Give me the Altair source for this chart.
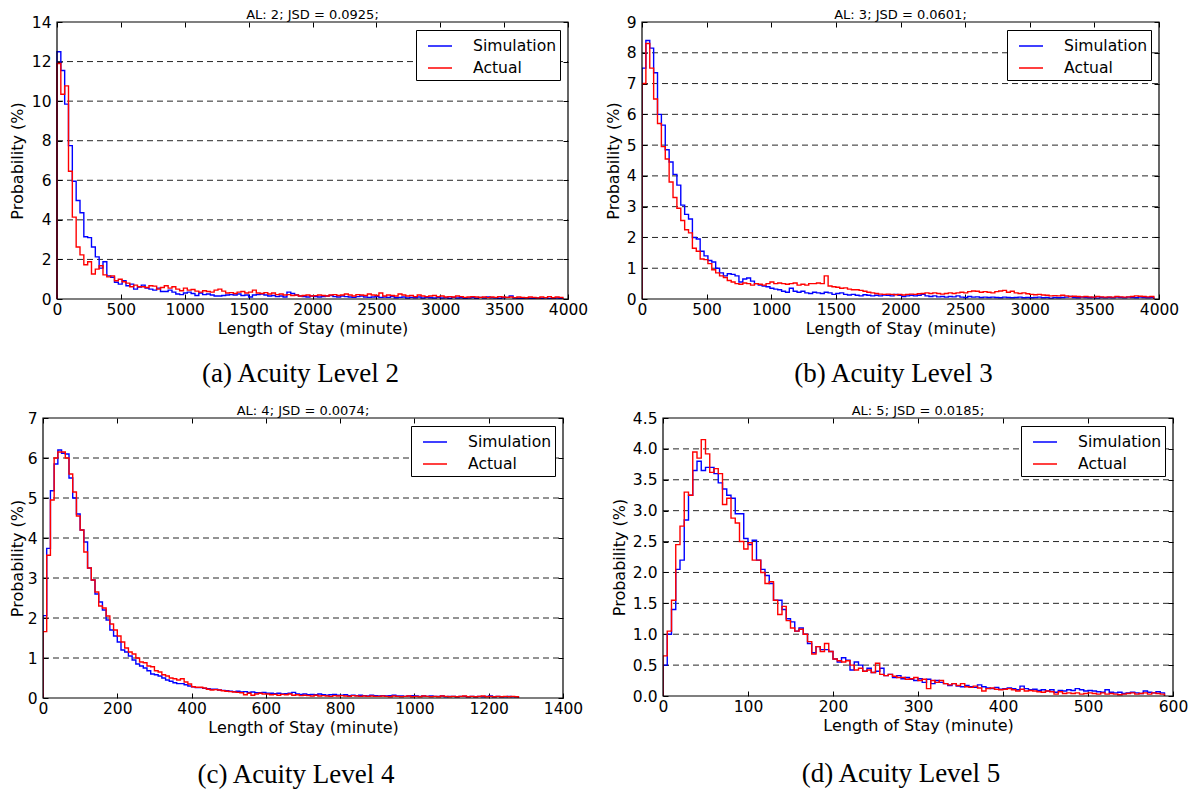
import altair as alt
import pandas as pd

SERIES = ["Simulation", "Actual"]
COLORS = ["#0000ff", "#ff0000"]
X_TITLE = "Length of Stay (minute)"
Y_TITLE = "Probability (%)"

# ---------------- Panel (a) ----------------
A_TITLE = "AL: 2; JSD = 0.0925;"
A_CAPTION = "(a) Acuity Level 2"
A_BIN = 30
A_XTICKS = [0, 500, 1000, 1500, 2000, 2500, 3000, 3500, 4000]
A_YTICKS = [0, 2, 4, 6, 8, 10, 12, 14]
A_SIM = [12.5, 11.55, 9.85, 7.75, 5.95, 4.98, 4.36, 3.15, 3.1, 2.63,
         2.13, 1.56, 1.88, 1.17, 1.1, 0.85, 0.75, 0.92, 0.67, 0.75,
         0.5, 0.6, 0.7, 0.55, 0.5, 0.45, 0.55, 0.38, 0.38, 0.45,
         0.35, 0.25, 0.22, 0.3, 0.35, 0.28, 0.18, 0.3, 0.22, 0.25,
         0.2, 0.15, 0.15, 0.18, 0.2, 0.22, 0.2, 0.25, 0.18, 0.2,
         0.1, 0.2, 0.22, 0.25, 0.2, 0.15, 0.18, 0.12, 0.15, 0.1,
         0.35, 0.28, 0.2, 0.15, 0.12, 0.1, 0.15, 0.12, 0.1, 0.12,
         0.15, 0.18, 0.12, 0.1, 0.15, 0.12, 0.1, 0.08, 0.12, 0.15,
         0.1, 0.08, 0.1, 0.12, 0.08, 0.1, 0.08, 0.12, 0.06, 0.08,
         0.1, 0.05, 0.08, 0.06, 0.1, 0.05, 0.08, 0.06, 0.05, 0.08,
         0.05, 0.06, 0.04, 0.08, 0.05, 0.06, 0.04, 0.05, 0.07, 0.04,
         0.08, 0.05, 0.1, 0.06, 0.05, 0.04, 0.06, 0.08, 0.15, 0.05,
         0.04, 0.03, 0.05, 0.04, 0.03, 0.05, 0.04, 0.06, 0.03, 0.04, 0.05, 0.03]
A_ACT = [11.9, 10.35, 10.77, 6.46, 4.14, 2.63, 2.23, 1.73, 1.88, 1.26,
         1.51, 1.68, 1.22, 1.12, 1.17, 0.92, 1.0, 0.87, 0.8, 0.62,
         0.7, 0.62, 0.62, 0.58, 0.67, 0.65, 0.5, 0.58, 0.67, 0.55,
         0.62, 0.5, 0.42, 0.55, 0.45, 0.48, 0.4, 0.35, 0.42, 0.38,
         0.35, 0.45, 0.5, 0.4, 0.3, 0.32, 0.28, 0.35, 0.38, 0.3,
         0.35, 0.45, 0.3, 0.28, 0.32, 0.25, 0.3, 0.22, 0.25, 0.2,
         0.22, 0.18, 0.2, 0.15, 0.18, 0.2, 0.15, 0.17, 0.2, 0.18,
         0.15, 0.2, 0.22, 0.18, 0.2, 0.25, 0.2, 0.15, 0.22, 0.2,
         0.18, 0.25, 0.2, 0.18, 0.3, 0.15, 0.2, 0.18, 0.15, 0.25,
         0.2, 0.15, 0.18, 0.12, 0.2, 0.15, 0.12, 0.15, 0.18, 0.12,
         0.15, 0.1, 0.12, 0.1, 0.15, 0.12, 0.08, 0.1, 0.12, 0.1,
         0.08, 0.1, 0.07, 0.1, 0.08, 0.12, 0.1, 0.08, 0.1, 0.07,
         0.1, 0.08, 0.06, 0.1, 0.08, 0.05, 0.1, 0.07, 0.12, 0.06, 0.1, 0.08]

# ---------------- Panel (b) ----------------
B_TITLE = "AL: 3; JSD = 0.0601;"
B_CAPTION = "(b) Acuity Level 3"
B_BIN = 30
B_XTICKS = [0, 500, 1000, 1500, 2000, 2500, 3000, 3500, 4000]
B_YTICKS = [0, 1, 2, 3, 4, 5, 6, 7, 8, 9]
B_SIM = [7.5, 8.4, 8.15, 7.35, 6.0, 5.65, 4.85, 4.45, 4.05, 3.7,
         3.05, 2.75, 2.6, 2.0, 1.95, 1.55, 1.4, 1.25, 1.2, 1.0,
         0.85, 0.75, 0.82, 0.8, 0.75, 0.55, 0.65, 0.68, 0.58, 0.5,
         0.45, 0.42, 0.4, 0.35, 0.32, 0.3, 0.25, 0.22, 0.35, 0.25,
         0.22, 0.25, 0.2, 0.18, 0.22, 0.2, 0.18, 0.22, 0.2, 0.15,
         0.18, 0.2, 0.15, 0.13, 0.15, 0.12, 0.1, 0.14, 0.12, 0.1,
         0.12, 0.1, 0.13, 0.12, 0.1, 0.15, 0.12, 0.08, 0.1, 0.12,
         0.1, 0.12, 0.15, 0.1, 0.08, 0.1, 0.07, 0.08, 0.06, 0.08,
         0.07, 0.1, 0.06, 0.05, 0.08, 0.06, 0.07, 0.05, 0.06, 0.05,
         0.06, 0.05, 0.04, 0.06, 0.05, 0.04, 0.05, 0.06, 0.04, 0.05,
         0.04, 0.05, 0.06, 0.04, 0.05, 0.03, 0.05, 0.04, 0.05, 0.06,
         0.08, 0.05, 0.04, 0.06, 0.05, 0.04, 0.05, 0.03, 0.05, 0.04,
         0.05, 0.04, 0.06, 0.05, 0.04, 0.06, 0.05, 0.04, 0.06, 0.05, 0.04, 0.05]
B_ACT = [7.0, 8.3, 7.5, 6.5, 5.7, 4.95, 4.55, 3.8, 3.3, 2.95,
         2.55, 2.25, 2.15, 1.65, 1.55, 1.3, 1.28, 1.15, 0.95, 0.85,
         0.75, 0.7, 0.6, 0.55, 0.5, 0.48, 0.52, 0.5, 0.45, 0.5,
         0.48, 0.45, 0.5, 0.55, 0.5, 0.52, 0.5, 0.48, 0.5, 0.52,
         0.45, 0.48, 0.45, 0.5, 0.5, 0.52, 0.5, 0.75, 0.42, 0.4,
         0.38, 0.35, 0.36, 0.32, 0.3, 0.3, 0.28, 0.25, 0.22, 0.2,
         0.18, 0.16, 0.15, 0.16, 0.15, 0.14, 0.15, 0.13, 0.15, 0.16,
         0.15, 0.17, 0.18, 0.2, 0.18, 0.2, 0.18, 0.16, 0.18, 0.2,
         0.18, 0.2, 0.22, 0.2, 0.24, 0.26, 0.25, 0.22, 0.24, 0.22,
         0.2, 0.24, 0.26, 0.28, 0.22, 0.25, 0.2, 0.18, 0.2, 0.17,
         0.15, 0.14, 0.15, 0.13, 0.12, 0.1, 0.11, 0.1, 0.12, 0.1,
         0.08, 0.09, 0.08, 0.07, 0.08, 0.07, 0.06, 0.08, 0.07, 0.06,
         0.07, 0.06, 0.08, 0.07, 0.06, 0.07, 0.08, 0.1, 0.09, 0.08, 0.07, 0.08]

# ---------------- Panel (c) ----------------
C_TITLE = "AL: 4; JSD = 0.0074;"
C_CAPTION = "(c) Acuity Level 4"
C_BIN = 10
C_XTICKS = [0, 200, 400, 600, 800, 1000, 1200, 1400]
C_YTICKS = [0, 1, 2, 3, 4, 5, 6, 7]
C_SIM = [2.06, 3.74, 5.18, 5.85, 6.2, 6.12, 6.1, 5.5, 5.0, 4.6,
         4.2, 3.9, 3.25, 2.95, 2.6, 2.4, 2.2, 1.95, 1.7, 1.55,
         1.4, 1.2, 1.15, 1.05, 0.95, 0.85, 0.8, 0.75, 0.68, 0.6,
         0.58, 0.55, 0.5, 0.45, 0.42, 0.38, 0.36, 0.36, 0.33, 0.3,
         0.28, 0.26, 0.26, 0.24, 0.23, 0.22, 0.22, 0.2, 0.19, 0.18,
         0.17, 0.16, 0.17, 0.15, 0.16, 0.14, 0.15, 0.13, 0.13, 0.14,
         0.12, 0.12, 0.11, 0.12, 0.1, 0.11, 0.12, 0.14, 0.1, 0.09,
         0.1, 0.08, 0.09, 0.08, 0.1, 0.08, 0.07, 0.08, 0.09, 0.07,
         0.07, 0.08, 0.06, 0.07, 0.06, 0.07, 0.06, 0.05, 0.07, 0.06,
         0.05, 0.06, 0.05, 0.06, 0.07, 0.05, 0.05, 0.04, 0.05, 0.06,
         0.05, 0.04, 0.05, 0.04, 0.05, 0.04, 0.04, 0.05, 0.03, 0.04,
         0.04, 0.03, 0.04, 0.04, 0.03, 0.04, 0.03, 0.04, 0.03, 0.04,
         0.05, 0.03, 0.04, 0.03, 0.03, 0.04, 0.03, 0.03]
C_ACT = [1.66, 3.57, 4.95, 6.0, 6.15, 6.15, 6.0, 5.6, 5.15, 4.55,
         4.2, 3.65, 3.25, 2.95, 2.65, 2.3, 2.25, 2.05, 1.85, 1.7,
         1.55, 1.4, 1.25, 1.15, 1.1, 1.0, 0.9, 0.88, 0.8, 0.78,
         0.68, 0.65, 0.58, 0.55, 0.5, 0.48, 0.45, 0.48, 0.4, 0.35,
         0.28, 0.27, 0.27, 0.25, 0.22, 0.2, 0.21, 0.2, 0.18, 0.17,
         0.16, 0.15, 0.14, 0.13, 0.08, 0.12, 0.07, 0.1, 0.12, 0.1,
         0.1, 0.08, 0.09, 0.07, 0.09, 0.08, 0.1, 0.07, 0.08, 0.06,
         0.07, 0.06, 0.05, 0.07, 0.05, 0.06, 0.05, 0.04, 0.06, 0.05,
         0.06, 0.05, 0.04, 0.06, 0.05, 0.04, 0.05, 0.04, 0.05, 0.04,
         0.04, 0.05, 0.04, 0.03, 0.05, 0.04, 0.03, 0.04, 0.05, 0.03,
         0.04, 0.03, 0.05, 0.04, 0.03, 0.04, 0.03, 0.05, 0.04, 0.03,
         0.04, 0.03, 0.04, 0.05, 0.03, 0.04, 0.03, 0.04, 0.05, 0.03,
         0.04, 0.03, 0.04, 0.03, 0.04, 0.03, 0.04, 0.03]

# ---------------- Panel (d) ----------------
D_TITLE = "AL: 5; JSD = 0.0185;"
D_CAPTION = "(d) Acuity Level 5"
D_BIN = 5
D_XTICKS = [0, 100, 200, 300, 400, 500, 600]
D_YTICKS = [0.0, 0.5, 1.0, 1.5, 2.0, 2.5, 3.0, 3.5, 4.0, 4.5]
D_SIM = [0.5, 1.0, 1.4, 2.05, 2.2, 2.85, 3.25, 3.65, 3.8, 3.65,
         3.7, 3.7, 3.6, 3.45, 3.35, 3.25, 3.2, 2.95, 2.95, 2.55,
         2.45, 2.52, 2.2, 2.05, 1.95, 1.82, 1.55, 1.55, 1.4, 1.25,
         1.2, 1.05, 1.1, 1.0, 0.85, 0.7, 0.8, 0.75, 0.75, 0.72,
         0.6, 0.55, 0.62, 0.58, 0.42, 0.55, 0.5, 0.4, 0.45, 0.38,
         0.4, 0.45, 0.33, 0.35, 0.3, 0.33, 0.28, 0.3, 0.27, 0.25,
         0.28, 0.22, 0.27, 0.2, 0.25, 0.22, 0.2, 0.17, 0.2, 0.16,
         0.15, 0.17, 0.15, 0.14, 0.18, 0.15, 0.13, 0.12, 0.14, 0.11,
         0.12, 0.13, 0.12, 0.1, 0.16, 0.12, 0.1, 0.11, 0.09, 0.1,
         0.08, 0.1, 0.06, 0.09, 0.08, 0.1, 0.09, 0.12, 0.1, 0.08,
         0.09, 0.08, 0.07, 0.06, 0.1, 0.06, 0.05, 0.06, 0.04, 0.05,
         0.06, 0.05, 0.04, 0.08, 0.06, 0.05, 0.07, 0.05]
D_ACT = [0.65, 1.05, 1.55, 2.45, 2.75, 3.3, 3.25, 3.95, 3.85, 4.15,
         3.92, 3.62, 3.68, 3.6, 3.1, 3.2, 2.88, 2.8, 2.5, 2.38,
         2.48, 2.2, 2.2, 2.0, 1.82, 1.85, 1.55, 1.32, 1.45, 1.22,
         1.1, 1.05, 1.08, 1.0, 0.88, 0.68, 0.8, 0.72, 0.85, 0.72,
         0.6, 0.57, 0.55, 0.57, 0.5, 0.42, 0.45, 0.4, 0.42, 0.38,
         0.53, 0.35, 0.33, 0.35, 0.32, 0.3, 0.3, 0.27, 0.28, 0.3,
         0.25, 0.27, 0.12, 0.25, 0.22, 0.25, 0.2, 0.18, 0.2, 0.17,
         0.2, 0.15, 0.14, 0.16, 0.13, 0.08, 0.12, 0.13, 0.11, 0.1,
         0.11, 0.12, 0.1, 0.08, 0.11, 0.08, 0.09, 0.08, 0.07, 0.06,
         0.08, 0.07, 0.03, 0.07, 0.04, 0.05, 0.04, 0.05, 0.03, 0.04,
         0.05, 0.04, 0.03, 0.05, 0.03, 0.04, 0.03, 0.02, 0.03, 0.04,
         0.05, 0.03, 0.04, 0.05, 0.03, 0.05, 0.04, 0.03]


def steps(bin_w, values, name):
    n = len(values)
    xs = [0] + [i * bin_w for i in range(n)] + [n * bin_w, n * bin_w]
    ys = [0] + list(values) + [values[-1], 0]
    return pd.DataFrame({"x": xs, "p": ys, "s": name, "o": list(range(len(xs)))})


def panel(title, caption, bin_w, sim, act, xticks, yticks, yfmt, w, h,
          cap_dx, cap_dy, ytp, inset=0):
    """Plot frame spans x = inset .. inset + w inside a view of width w + inset."""
    df = pd.concat([steps(bin_w, sim, SERIES[0]), steps(bin_w, act, SERIES[1])],
                   ignore_index=True)
    vw = w + inset
    xdom = [xticks[0], xticks[-1]]
    ydom = [yticks[0], yticks[-1]]
    xscale = alt.Scale(domain=xdom, nice=False, zero=False, range=[inset, vw])
    yscale = alt.Scale(domain=ydom, nice=False, zero=False)
    color = alt.Color(
        "s:N",
        scale=alt.Scale(domain=SERIES, range=COLORS),
        legend=alt.Legend(
            title=None, orient="top-right", offset=8,
            strokeColor="black", fillColor="white", padding=3,
            symbolType="stroke", symbolSize=576, symbolStrokeWidth=1.5,
            symbolOffset=8,
            labelFontSize=15.6, labelFont="DejaVu Sans", labelColor="black",
            labelOffset=20, rowPadding=0, cornerRadius=0,
        ),
    )
    xenc = alt.X(
        "x:Q", scale=xscale,
        axis=alt.Axis(values=xticks, title=X_TITLE, format="d",
                      labelFlush=False, labelOverlap=False, grid=False,
                      domain=False, tickSize=5, offset=-5,
                      labelPadding=3, titlePadding=3),
    )
    yenc = alt.Y(
        "p:Q", scale=yscale,
        axis=alt.Axis(values=yticks, format=yfmt, title=Y_TITLE, grid=False,
                      domain=False, tickSize=5, offset=-(5 + inset),
                      labelPadding=6, titlePadding=ytp, labelOverlap=False),
    )
    # dashed horizontal grid, drawn between the frame's left and right edges
    grid = alt.Chart(pd.DataFrame({"p": yticks[1:-1]})).mark_rule(
        strokeDash=[6, 4], color="black", opacity=0.85, strokeWidth=1
    ).encode(y=yenc, x=alt.value(inset), x2=alt.value(vw))
    base = alt.Chart(df)
    lines = [
        base.transform_filter(alt.datum.s == s)
        .mark_line(interpolate="step-after", strokeWidth=1.4, clip=True)
        .encode(x=xenc, y=yenc, color=color, order="o:Q")
        for s in SERIES
    ]
    frame = alt.Chart(pd.DataFrame({"k": [0]})).mark_rect(
        fill="transparent", stroke="black", strokeWidth=1.2
    ).encode(x=alt.value(inset), x2=alt.value(vw), y=alt.value(0), y2=alt.value(h))
    cap = alt.Chart(pd.DataFrame({"t": [caption]})).mark_text(
        font="Liberation Serif", fontSize=27, baseline="middle", align="center",
        color="black",
    ).encode(text="t:N", x=alt.value(inset + w / 2 + cap_dx), y=alt.value(h + cap_dy))
    inner = alt.layer(grid, *lines, frame, cap)
    mirror = base.mark_point(opacity=0).encode(
        x=alt.X("x:Q", scale=xscale,
                axis=alt.Axis(orient="top", values=xticks, labels=False,
                              title=None, grid=False, domain=False,
                              tickSize=5, offset=-5)),
        y=alt.Y("p:Q", scale=yscale,
                axis=alt.Axis(orient="right", values=yticks, labels=False,
                              title=None, grid=False, domain=False,
                              tickSize=5, offset=-5)),
    )
    return alt.layer(inner, mirror).resolve_scale(
        x="independent", y="independent"
    ).properties(
        width=vw, height=h,
        title=alt.TitleParams(title, fontSize=13, font="DejaVu Sans",
                              fontWeight="normal", offset=-7, anchor="middle",
                              dx=inset / 2, color="black"),
    )


pa = panel(A_TITLE, A_CAPTION, A_BIN, A_SIM, A_ACT, A_XTICKS, A_YTICKS, "d",
           511, 277, -12, 75, 6, inset=14)
pb = panel(B_TITLE, B_CAPTION, B_BIN, B_SIM, B_ACT, B_XTICKS, B_YTICKS, "d",
           517, 277, -7, 75, 5)
pc = panel(C_TITLE, C_CAPTION, C_BIN, C_SIM, C_ACT, C_XTICKS, C_YTICKS, "d",
           520, 280, -7, 77, 2)
pd_ = panel(D_TITLE, D_CAPTION, D_BIN, D_SIM, D_ACT, D_XTICKS, D_YTICKS, ".1f",
            510, 278, -17, 78, 5)

row1 = alt.hconcat(pa, pb, spacing=15).resolve_scale(
    color="independent").resolve_legend(color="independent")
row2 = alt.hconcat(pc, pd_, spacing=26).resolve_scale(
    color="independent").resolve_legend(color="independent")

chart = alt.vconcat(row1, row2, spacing=16).resolve_scale(
    color="independent"
).resolve_legend(color="independent").properties(
    padding={"left": 0, "top": 0, "right": 0, "bottom": 0}
).configure(
    background="white"
).configure_view(
    stroke="transparent"
).configure_axis(
    labelFont="DejaVu Sans", titleFont="DejaVu Sans", labelFontSize=15.5,
    titleFontSize=16, titleFontWeight="normal", labelColor="black",
    titleColor="black", tickColor="black", tickWidth=1,
)

chart.save("out.html", embed_options={"renderer": "svg", "actions": False})
